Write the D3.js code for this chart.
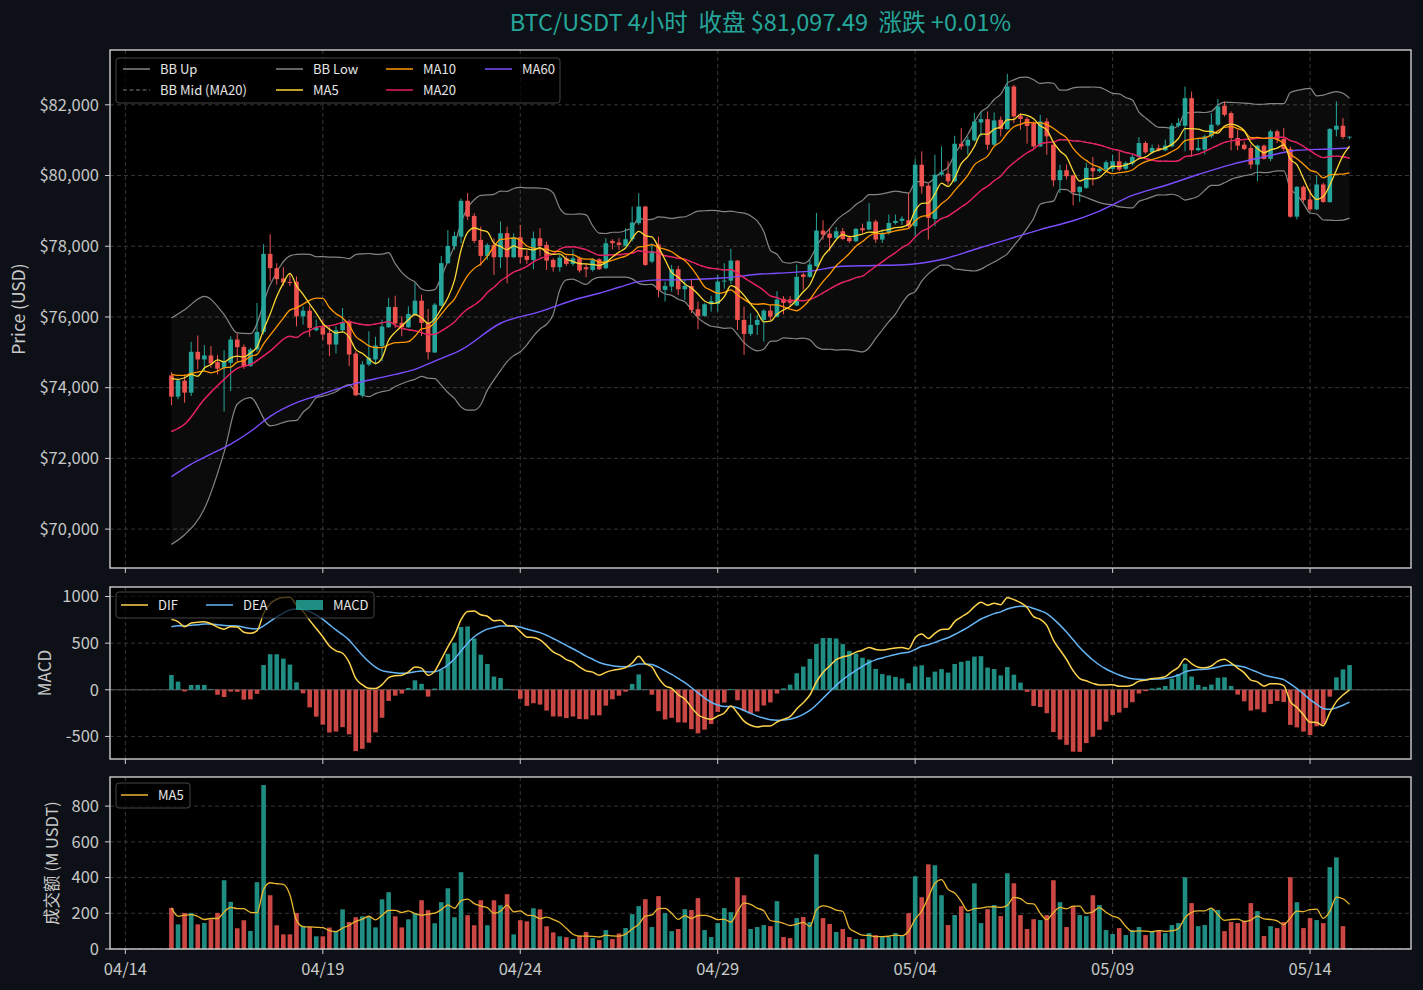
<!DOCTYPE html>
<meta charset="utf-8">
<style>
    body {
        margin: 0;
        padding: 0;
        background: #0d1117;
    }
    svg text {
        font-family: "Noto Sans CJK SC", "Noto Sans", sans-serif;
        white-space: pre;
    }
</style>
<body>
<script src="https://d3js.org/d3.v7.min.js"></script>
<script>
    // 4h candles, 04/15 04:00 -> 05/15 00:00
    var opens = [74347,73746,74197,73859,75014,74798,74911,74723,74563,74704,
        75361,75155,74610,75080,75577,77784,77380,77089,76990,76995,
        76019,76178,75624,75709,75549,75221,75624,75878,74967,73784,
        74657,74798,75174,75709,76282,75831,75709,76066,76460,75831,
        74995,76319,77521,78000,78272,79286,78858,78180,77727,78038,
        77689,78368,77689,78255,77727,77613,78226,78038,77613,77406,
        77660,77500,77660,77406,77330,77632,77378,78151,78104,78009,
        78198,78651,79122,77566,78050,76765,76860,77349,76783,76878,
        76218,76029,76359,76369,77000,77028,77594,75916,75520,75775,
        75916,76180,76010,76514,76495,76326,77200,77135,77436,78443,
        78358,78236,78424,78236,78142,78509,78471,78697,78189,78377,
        78659,78716,78735,78565,80306,79713,78772,80024,80052,79836,
        80899,80842,80993,81500,81595,80871,81576,81313,82518,81690,
        81600,81482,80824,81529,80871,79869,80150,80000,79530,79653,
        80216,80122,80169,80188,80404,80188,80338,80526,80920,80657,
        80779,80714,80826,81408,81408,82188,80714,80732,81108,81437,
        81972,81765,81061,80873,80779,80310,80845,80470,81249,81033,
        80751,78836,79681,79324,79042,79746,79249,81296,81408,81090];
    var highs = [74441,74235,74375,75296,75474,75202,75174,74920,75061,75455,
        75521,75221,75127,76394,78056,78338,77521,77408,77240,77145,
        76300,76300,75925,75925,75737,75737,76253,75925,75033,74751,
        75596,75437,75925,76535,76601,76019,76300,76958,76629,76225,
        76394,77728,78460,78413,79352,79500,78934,78556,78085,78226,
        78698,78556,78368,78604,77896,78415,78509,78132,77660,77755,
        77726,77915,77708,77519,77660,77660,78226,78198,78226,78509,
        79122,79500,79141,78085,78273,77000,77472,77444,77047,77047,
        76435,76388,76600,77189,77520,77925,77613,76293,76105,76057,
        76218,76340,76730,76590,76590,77483,77248,77624,78942,78735,
        78518,78546,78518,78302,78518,78640,79224,78754,78471,78895,
        78895,78850,79506,80466,80683,79788,80588,80824,80400,81125,
        81341,81106,81765,81812,81812,81784,81670,82875,82565,81765,
        81650,81530,81718,81623,80918,80306,80310,80028,79700,80357,
        80526,80250,80430,80593,80685,80400,80593,81089,80970,80873,
        80873,81014,81483,81624,82516,82376,81061,81155,81765,82160,
        82094,81812,81296,80967,80873,80873,80873,81296,81296,81343,
        80818,79700,79718,79624,80000,79793,81343,82094,81624,81108];
    var lows = [73502,73671,73577,73765,74516,74469,74563,74375,73324,73906,
        74751,74535,74591,75014,75502,77005,76911,76883,76880,75737,
        75784,75437,75596,75343,74892,74967,75549,74610,73765,73718,
        74610,74657,74751,75690,75690,75455,75690,76038,75455,74798,
        74986,76300,77502,77897,78085,78745,78085,77444,77613,77189,
        77378,76953,77660,77519,77500,77349,77708,77330,77283,77283,
        77444,77444,77255,77123,77283,77330,77349,77915,77896,77990,
        78132,78604,77444,77519,76557,76435,76718,76623,76482,76104,
        75652,76010,76150,76152,76800,76934,75633,74926,75463,75491,
        75303,75916,76000,76072,76288,76307,76777,77107,77417,78189,
        77859,78208,78170,78095,78113,78377,78452,78095,78095,78330,
        78612,78600,78518,78283,79488,78189,78565,79976,79741,79807,
        80730,80588,80965,81106,80730,80842,81106,81294,81482,81294,
        80900,80780,80805,80588,79695,79506,79887,79155,79249,79624,
        79718,80080,80150,80122,80122,80150,80282,80470,80620,80620,
        80685,80685,80798,81362,80685,80526,80685,80592,81061,81390,
        81671,80714,80714,80714,80188,79840,80451,80404,80920,80700,
        78807,78760,79249,78995,79023,79230,79230,81108,81033,81020];
    var closes = [73746,74206,73859,75014,74798,74911,74685,74535,74723,75361,
        75145,74591,75080,75577,77784,77380,77070,76976,76960,76019,
        76178,75690,75690,75502,75221,75624,75850,74939,73784,74657,
        74845,75192,75728,76282,75812,75709,76085,76460,75831,75005,
        76347,77521,78009,78291,79286,78839,78151,77727,78038,77689,
        78368,77689,78255,77689,77613,78226,78009,77594,77406,77679,
        77500,77660,77312,77349,77613,77349,78085,78085,78038,78198,
        78670,79122,77472,77849,76765,76878,77349,76783,76878,76199,
        76029,76359,76450,77000,77028,77594,75916,75520,75775,75916,
        76180,76010,76495,76401,76401,77135,77135,77483,78443,78330,
        78236,78424,78208,78142,78490,78452,78697,78189,78377,78659,
        78716,78780,78565,80306,79694,78801,80024,80090,79836,80899,
        80824,81012,81529,81595,80871,81558,81313,82518,81671,81600,
        81400,80824,81529,81106,79864,80150,79981,79530,79681,80216,
        80122,80190,80376,80404,80169,80357,80526,80920,80657,80779,
        80714,80845,81408,81484,82188,80714,80779,81108,81437,81953,
        81718,81061,80845,80751,80310,80845,80470,81249,81014,80751,
        78836,79681,79305,79042,79746,79249,81315,81408,81090,81097.49];
    // 成交额, M USDT
    var volumes = [230,138,202,202,138,146,166,202,385,264,
        116,161,101,374,918,301,133,82,82,202,
        129,123,71,71,120,101,222,151,178,183,
        183,121,278,318,183,121,166,202,273,217,
        144,262,340,178,430,189,133,273,133,273,
        245,307,82,161,155,228,222,127,93,71,
        66,56,74,95,61,50,106,56,87,117,
        195,240,279,123,296,201,100,112,223,218,
        285,106,67,145,229,206,402,301,112,123,
        134,128,268,67,61,173,179,151,530,173,
        140,95,112,67,56,56,89,78,67,67,
        89,73,201,407,290,474,469,301,134,190,
        240,201,368,145,223,246,184,424,368,190,
        112,167,162,190,385,262,123,240,190,184,
        301,246,106,84,117,78,106,123,78,100,
        106,89,134,145,402,257,128,134,223,218,
        100,151,145,156,257,212,73,128,117,151,
        402,262,117,173,162,145,458,513,128,5];

    // indicator values read before their windows fill (warm-up came from older candles)
    var ma5HeadIdx = [0, 1, 2, 3];
    var ma5Head = [74263, 74235, 74282, 74375];
    var ma10HeadIdx = [0, 1, 2, 3, 4, 5, 6, 7, 8];
    var ma10Head = [74375, 74347, 74347, 74404, 74441, 74469, 74420, 74469, 74563];
    var bbHeadIdx = [0, 2, 5, 8, 10, 12, 15, 18];
    var bbMidHead = [72760, 72967, 73671, 74235, 74545, 74657, 75033, 75455];
    var bbUpHead = [75972, 76207, 76582, 76066, 75549, 75530, 76911, 77728];
    var bbLowHead = [69568, 69840, 70573, 72169, 73530, 73718, 72920, 73061];
    var ma60Idx = [0,3,6,9,12,15,19,22,25,28,31,34,37,40,44,50,56,62,65,68,
        71,74,77,80,83,86,89,92,97,102,107,112,117,122,127,132,137,141,146,151,
        156,161,166,171,176,179];
    var ma60Vals = [71483,71840,72122,72404,72760,73190,73578,73765,73953,74122,
        74253,74375,74516,74751,75067,75822,76152,76529,76670,76840,
        77000,77048,77048,77066,77095,77142,77208,77236,77295,77436,
        77455,77483,77624,77907,78189,78471,78720,78995,79437,79718,
        80028,80310,80526,80714,80751,80779];
    // MACD state on the first candle
    var macdStart = {ema12: 73810, ema26: 73055, dea: 676};

    var priceTicks = [70000, 72000, 74000, 76000, 78000, 80000, 82000];
    var macdTicks = [-500, 0, 500, 1000];
    var volTicks = [0, 200, 400, 600, 800];
    var dateTicks = ["04/14", "04/19", "04/24", "04/29", "05/04", "05/09", "05/14"];

    var UP = "#26a69a", DOWN = "#ef5350";
    var W = 1423, H = 990, L = 110, R = 1411;
    var step = 4 * 3600e3;
    var t0 = Date.UTC(2026, 3, 15, 4);
    var times = closes.map(function(d, i) { return new Date(t0 + i * step); });
    var n = closes.length;

    var lo = t0 - 0.35 * step, hi = t0 + (n - 1) * step + 0.35 * step, pad = (hi - lo) * 0.05;
    var x = d3.scaleUtc().domain([new Date(lo - pad), new Date(hi + pad)]).range([L, R]);
    var bw = x(new Date(t0 + 0.7 * step)) - x(new Date(t0));
    var tickDates = dateTicks.map(function(s) {
        return new Date(Date.UTC(2026, +s.slice(0, 2) - 1, +s.slice(3)));
    });

    var yP = d3.scaleLinear().domain([68900, 83550]).range([568, 50]);
    var yM = d3.scaleLinear().domain([-742, 1102]).range([759, 587]);
    var yV = d3.scaleLinear().domain([0, 963]).range([949, 777]);

    // rolling helpers
    function mean(arr, w, i) {
        var s = 0;
        for (var k = i - w + 1; k <= i; k++) s += arr[k];
        return s / w;
    }
    function std(arr, w, i) {
        var m = mean(arr, w, i), s = 0;
        for (var k = i - w + 1; k <= i; k++) s += (arr[k] - m) * (arr[k] - m);
        return Math.sqrt(s / w);
    }
    function withHead(idx, vals, from, fn) {
        var pts = idx.map(function(k, j) { return [k, vals[j]]; });
        for (var i = from; i < n; i++) pts.push([i, fn(i)]);
        return pts;
    }

    var ma5 = withHead(ma5HeadIdx, ma5Head, 4, function(i) { return mean(closes, 5, i); });
    var ma10 = withHead(ma10HeadIdx, ma10Head, 9, function(i) { return mean(closes, 10, i); });
    var ma20 = withHead(bbHeadIdx, bbMidHead, 19, function(i) { return mean(closes, 20, i); });
    var band = bbHeadIdx.map(function(k, j) { return [k, bbLowHead[j], bbUpHead[j]]; });
    for (var i = 19; i < n; i++) {
        var m = mean(closes, 20, i), s = std(closes, 20, i);
        band.push([i, m - 2 * s, m + 2 * s]);
    }
    var ma60 = ma60Idx.map(function(k, j) { return [k, ma60Vals[j]]; });

    var dif = [], dea = [], hist = [];
    var e12 = macdStart.ema12, e26 = macdStart.ema26, de = macdStart.dea;
    closes.forEach(function(c, i) {
        if (i > 0) {
            e12 += (c - e12) * 2 / 13;
            e26 += (c - e26) * 2 / 27;
        }
        var df = e12 - e26;
        if (i > 0) de += (df - de) * 2 / 10;
        dif.push([i, df]);
        dea.push([i, de]);
        hist.push(2 * (df - de));
    });

    var volMa = volumes.map(function(v, i) {
        var k0 = Math.max(0, i - 4);
        return [i, d3.mean(volumes.slice(k0, i + 1))];
    });

    var svg = d3.select("body").append("svg")
        .attr("width", W)
        .attr("height", H);

    svg.append("rect").attr("width", W).attr("height", H).attr("fill", "#0d1117");

    var plain = function(v) { return String(v); };
    var panels = [
        {y: yP, ticks: priceTicks, fmt: function(v) { return "$" + d3.format(",")(v); }, label: "Price (USD)", lx: 19, ls: 17.5},
        {y: yM, ticks: macdTicks, fmt: plain, label: "MACD", lx: 45, ls: 17},
        {y: yV, ticks: volTicks, fmt: plain, label: "成交额 (M USDT)", lx: 52, ls: 16.5}
    ];

    panels.forEach(function(p, pi) {
        var top = p.y.range()[1], bot = p.y.range()[0];
        p.g = svg.append("g");
        p.g.append("rect")
            .attr("x", L).attr("y", top).attr("width", R - L).attr("height", bot - top)
            .attr("fill", "#000");
        // grid
        p.g.selectAll(".hg").data(p.ticks).enter().append("line")
            .attr("x1", L).attr("x2", R)
            .attr("y1", function(d) { return p.y(d); }).attr("y2", function(d) { return p.y(d); })
            .style("stroke", "#444").style("stroke-width", 0.8).style("stroke-dasharray", "4,3");
        p.g.selectAll(".vg").data(tickDates).enter().append("line")
            .attr("y1", top).attr("y2", bot)
            .attr("x1", function(d) { return x(d); }).attr("x2", function(d) { return x(d); })
            .style("stroke", "#444").style("stroke-width", 0.8).style("stroke-dasharray", "4,3");
        p.marks = svg.append("g");
        p.over = svg.append("g");
        // frame
        p.over.append("rect")
            .attr("x", L).attr("y", top).attr("width", R - L).attr("height", bot - top)
            .attr("fill", "none").style("stroke", "#dcdcdc").style("stroke-width", 1.3);
        // y ticks
        p.ticks.forEach(function(v) {
            p.over.append("line").attr("x1", L - 5).attr("x2", L)
                .attr("y1", p.y(v)).attr("y2", p.y(v)).style("stroke", "#ccc");
            p.over.append("text").attr("x", L - 11).attr("y", p.y(v)).attr("dy", "0.35em")
                .attr("text-anchor", "end").attr("fill", "#c8c8c8").style("font-size", "16.5px")
                .text(p.fmt(v));
        });
        // x ticks
        tickDates.forEach(function(d, k) {
            p.over.append("line").attr("x1", x(d)).attr("x2", x(d))
                .attr("y1", bot).attr("y2", bot + 5).style("stroke", "#ccc");
            if (pi === 2) {
                p.over.append("text").attr("x", x(d)).attr("y", bot + 26)
                    .attr("text-anchor", "middle").attr("fill", "#c8c8c8").style("font-size", "16.5px")
                    .text(dateTicks[k]);
            }
        });
        p.over.append("text")
            .attr("transform", "translate(" + p.lx + "," + ((top + bot) / 2) + ") rotate(-90)")
            .attr("text-anchor", "middle").attr("dy", "0.35em")
            .attr("fill", "#c8c8c8").style("font-size", p.ls + "px")
            .text(p.label);
    });

    function line(y) {
        return d3.line()
            .x(function(d) { return x(times[d[0]]); })
            .y(function(d) { return y(d[1]); })
            .curve(d3.curveMonotoneX);
    }
    function drawLine(g, data, y, color, width, dash) {
        g.append("path").datum(data)
            .attr("d", line(y))
            .attr("fill", "none")
            .style("stroke", color)
            .style("stroke-width", width)
            .style("stroke-dasharray", dash || null);
    }

    // ---- price panel ----
    var pm = panels[0].marks;
    pm.append("path").datum(band)
        .attr("d", d3.area()
            .x(function(d) { return x(times[d[0]]); })
            .y0(function(d) { return yP(d[1]); })
            .y1(function(d) { return yP(d[2]); })
            .curve(d3.curveMonotoneX))
        .attr("fill", "#fff").attr("fill-opacity", 0.045);
    drawLine(pm, band.map(function(d) { return [d[0], d[2]]; }), yP, "#858585", 1.2);
    drawLine(pm, band.map(function(d) { return [d[0], d[1]]; }), yP, "#858585", 1.2);
    drawLine(pm, ma20, yP, "#9a9a9a", 0.8, "4,2.5");

    var candles = pm.append("g").selectAll("g").data(closes).enter().append("g")
        .style("fill", function(d, i) { return d >= opens[i] ? UP : DOWN; })
        .style("stroke", function(d, i) { return d >= opens[i] ? UP : DOWN; });
    candles.append("line")
        .attr("x1", function(d, i) { return x(times[i]); })
        .attr("x2", function(d, i) { return x(times[i]); })
        .attr("y1", function(d, i) { return yP(highs[i]); })
        .attr("y2", function(d, i) { return yP(lows[i]); })
        .style("stroke-width", 1);
    candles.append("rect")
        .attr("x", function(d, i) { return x(times[i]) - bw / 2; })
        .attr("width", bw)
        .attr("y", function(d, i) { return yP(Math.max(d, opens[i])); })
        .attr("height", function(d, i) { return Math.max(0.8, Math.abs(yP(d) - yP(opens[i]))); })
        .style("stroke", "none");

    drawLine(pm, ma60, yP, "#7c4dff", 1.4);
    drawLine(pm, ma20, yP, "#e91e63", 1.4);
    drawLine(pm, ma10, yP, "#ff9800", 1.3);
    drawLine(pm, ma5, yP, "#fdd835", 1.3);

    // ---- MACD panel ----
    var mm = panels[1].marks;
    mm.append("line").attr("x1", L).attr("x2", R).attr("y1", yM(0)).attr("y2", yM(0))
        .style("stroke", "#666").style("stroke-width", 0.8);
    mm.selectAll("rect").data(hist).enter().append("rect")
        .attr("x", function(d, i) { return x(times[i]) - bw / 2; })
        .attr("width", bw)
        .attr("y", function(d) { return yM(Math.max(0, d)); })
        .attr("height", function(d) { return Math.abs(yM(d) - yM(0)); })
        .attr("fill", function(d) { return d >= 0 ? UP : DOWN; })
        .attr("fill-opacity", 0.85);
    drawLine(mm, dea, yM, "#64b5f6", 1.5);
    drawLine(mm, dif, yM, "#fdd34d", 1.5);

    // ---- volume panel ----
    var vm = panels[2].marks;
    vm.selectAll("rect").data(volumes).enter().append("rect")
        .attr("x", function(d, i) { return x(times[i]) - bw / 2; })
        .attr("width", bw)
        .attr("y", function(d) { return yV(d); })
        .attr("height", function(d) { return yV(0) - yV(d); })
        .attr("fill", function(d, i) { return closes[i] >= opens[i] ? UP : DOWN; })
        .attr("fill-opacity", 0.85);
    drawLine(vm, volMa, yV, "#e8b630", 1.3);

    // ---- legends ----
    function legend(g, box, items) {
        g.append("rect").attr("x", box[0]).attr("y", box[1]).attr("width", box[2]).attr("height", box[3])
            .attr("rx", 3).attr("fill", "#000").attr("fill-opacity", 0.7)
            .style("stroke", "#444").style("stroke-width", 1);
        items.forEach(function(it) {
            if (it.patch) {
                g.append("rect").attr("x", it.x).attr("y", it.y - 5).attr("width", 27).attr("height", 10)
                    .attr("fill", it.color).attr("fill-opacity", 0.85);
            } else {
                g.append("line").attr("x1", it.x).attr("x2", it.x + 27)
                    .attr("y1", it.y).attr("y2", it.y)
                    .style("stroke", it.color).style("stroke-width", it.w || 1.5)
                    .style("stroke-dasharray", it.dash || null);
            }
            g.append("text").attr("x", it.x + 37).attr("y", it.y).attr("dy", "0.35em")
                .attr("fill", "#e6e6e6").style("font-size", "13px").text(it.name);
        });
    }
    legend(panels[0].over, [116, 58, 444, 45], [
        {name: "BB Up", x: 123, y: 69, color: "#858585"},
        {name: "BB Mid (MA20)", x: 123, y: 90, color: "#9a9a9a", w: 0.8, dash: "4,2.5"},
        {name: "BB Low", x: 276, y: 69, color: "#858585"},
        {name: "MA5", x: 276, y: 90, color: "#fdd835"},
        {name: "MA10", x: 386, y: 69, color: "#ff9800"},
        {name: "MA20", x: 386, y: 90, color: "#e91e63"},
        {name: "MA60", x: 485, y: 69, color: "#7c4dff"}
    ]);
    legend(panels[1].over, [116, 592, 258, 26], [
        {name: "DIF", x: 121, y: 605, color: "#fdd34d"},
        {name: "DEA", x: 206, y: 605, color: "#64b5f6"},
        {name: "MACD", x: 296, y: 605, color: UP, patch: true}
    ]);
    legend(panels[2].over, [116, 783, 74, 25], [
        {name: "MA5", x: 121, y: 795, color: "#e8b630"}
    ]);

    // title from the last two closes
    var last = closes[n - 1], prev = closes[n - 2];
    var chg = (last - prev) / prev * 100;
    svg.append("text").attr("x", (L + R) / 2).attr("y", 31)
        .attr("text-anchor", "middle").attr("fill", UP).style("font-size", "23.5px")
        .text("BTC/USDT 4小时  收盘 $" + d3.format(",.2f")(last) + "  涨跌 " + (chg >= 0 ? "+" : "") + chg.toFixed(2) + "%");
</script>
</body>
</html>
